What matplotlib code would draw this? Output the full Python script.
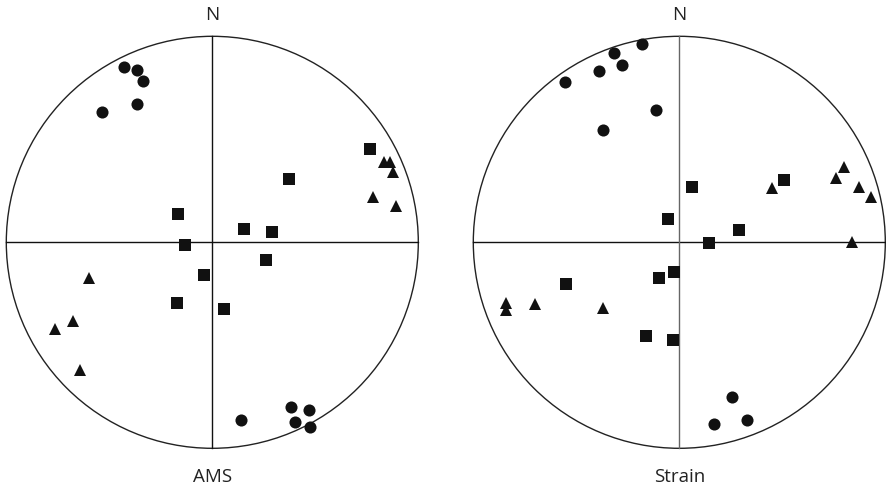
import numpy as np
import matplotlib.pyplot as plt
from matplotlib.patches import Circle

plt.rcParams['font.family'] = ['Open Sans', 'DejaVu Sans']

# stereonet positions (x = east, y = north, unit circle)
ams_circ_x = [-0.428, -0.367, -0.336, -0.365, -0.536, 0.140, 0.383, 0.467, 0.400, 0.472]
ams_circ_y = [0.852, 0.836, 0.785, 0.670, 0.632, -0.865, -0.799, -0.812, -0.874, -0.896]
ams_sq_x = [0.767, 0.371, -0.166, 0.155, 0.292, -0.131, 0.260, -0.040, -0.172, 0.058]
ams_sq_y = [0.455, 0.308, 0.138, 0.064, 0.051, -0.011, -0.087, -0.160, -0.294, -0.322]
ams_tri_x = [0.833, 0.865, 0.875, 0.778, 0.890, -0.600, -0.676, -0.765, -0.644]
ams_tri_y = [0.390, 0.390, 0.342, 0.221, 0.176, -0.174, -0.381, -0.421, -0.618]

str_circ_x = [-0.181, -0.318, -0.278, -0.389, -0.555, -0.113, -0.370, 0.258, 0.169, 0.327]
str_circ_y = [0.962, 0.918, 0.859, 0.830, 0.776, 0.642, 0.544, -0.751, -0.880, -0.865]
str_sq_x = [0.063, 0.508, -0.053, 0.289, 0.142, -0.026, -0.097, -0.549, -0.163, -0.032]
str_sq_y = [0.268, 0.303, 0.113, 0.060, -0.001, -0.144, -0.171, -0.202, -0.454, -0.475]
str_tri_x = [0.799, 0.760, 0.872, 0.931, 0.448, 0.839, -0.843, -0.843, -0.701, -0.370]
str_tri_y = [0.366, 0.310, 0.269, 0.221, 0.262, 0.001, -0.295, -0.328, -0.300, -0.317]

W, H = 887, 491
R = 206

fig = plt.figure(figsize=(W / 100, H / 100), dpi=100)


def stereonet(cx, cy, label, circ, sq, tri, vcolor):
    ax = fig.add_axes([(cx - R) / W, (H - cy - R) / H, 2 * R / W, 2 * R / H])
    ax.set_xlim(-1, 1)
    ax.set_ylim(-1, 1)
    ax.axis('off')
    ax.add_patch(Circle((0, 0), 1, fill=False, lw=1.0, ec='#222222', clip_on=False))
    ax.plot([-1, 1], [0, 0], color='#111111', lw=1.0, clip_on=False)
    ax.plot([0, 0], [-1, 1], color=vcolor, lw=1.0, clip_on=False)
    ax.plot(circ[0], circ[1], 'o', color='#111111', ms=8.7, mew=0, clip_on=False)
    ax.plot(sq[0], sq[1], 's', color='#111111', ms=8, mew=0, clip_on=False)
    ax.plot(tri[0], tri[1], '^', color='#111111', ms=9.3, mew=0, clip_on=False)
    ax.text(0, 1.105, 'N', ha='center', va='center', fontsize=13.5, color='#222222')
    ax.text(0, -1.138, label, ha='center', va='center', fontsize=13.5, color='#222222')


stereonet(212.3, 242.3, 'AMS', (ams_circ_x, ams_circ_y), (ams_sq_x, ams_sq_y),
          (ams_tri_x, ams_tri_y), '#111111')
stereonet(679.3, 242.3, 'Strain', (str_circ_x, str_circ_y), (str_sq_x, str_sq_y),
          (str_tri_x, str_tri_y), '#666666')

fig.savefig('out.png', dpi=100)
